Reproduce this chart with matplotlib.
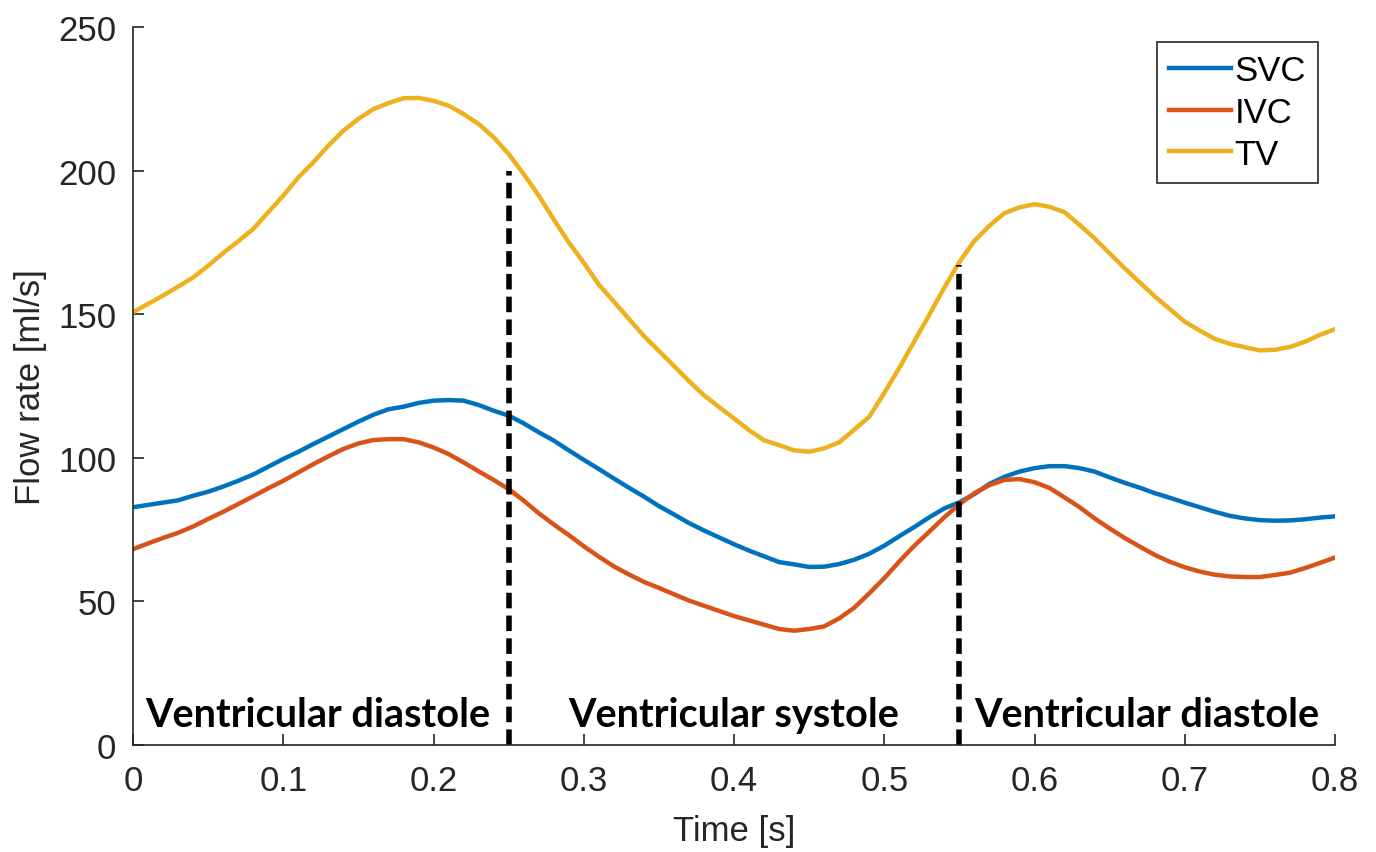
import matplotlib
matplotlib.use("Agg")
import matplotlib.pyplot as plt

# time axis [s] and flow rates [ml/s] (every 0.01 s)
time = [0.00, 0.01, 0.02, 0.03, 0.04, 0.05, 0.06, 0.07, 0.08, 0.09,
        0.10, 0.11, 0.12, 0.13, 0.14, 0.15, 0.16, 0.17, 0.18, 0.19,
        0.20, 0.21, 0.22, 0.23, 0.24, 0.25, 0.26, 0.27, 0.28, 0.29,
        0.30, 0.31, 0.32, 0.33, 0.34, 0.35, 0.36, 0.37, 0.38, 0.39,
        0.40, 0.41, 0.42, 0.43, 0.44, 0.45, 0.46, 0.47, 0.48, 0.49,
        0.50, 0.51, 0.52, 0.53, 0.54, 0.55, 0.56, 0.57, 0.58, 0.59,
        0.60, 0.61, 0.62, 0.63, 0.64, 0.65, 0.66, 0.67, 0.68, 0.69,
        0.70, 0.71, 0.72, 0.73, 0.74, 0.75, 0.76, 0.77, 0.78, 0.79, 0.80]

svc = [82.8, 83.6, 84.4, 85.2, 86.8, 88.2, 90.0, 92.0, 94.2, 96.9,
       99.6, 102.1, 104.8, 107.4, 110.0, 112.6, 115.0, 116.9, 117.8, 119.1,
       119.9, 120.1, 119.9, 118.4, 116.4, 114.7, 112.0, 108.9, 106.0, 102.6,
       99.3, 96.1, 92.8, 89.6, 86.5, 83.2, 80.3, 77.3, 74.7, 72.3,
       69.9, 67.7, 65.7, 63.7, 62.9, 62.0, 62.1, 63.0, 64.5, 66.6,
       69.4, 72.7, 75.9, 79.3, 82.4, 84.5, 87.4, 90.9, 93.4, 95.2,
       96.4, 97.1, 97.1, 96.4, 95.2, 93.2, 91.3, 89.6, 87.7, 86.1,
       84.4, 82.8, 81.2, 79.8, 78.9, 78.3, 78.1, 78.2, 78.6, 79.2, 79.6]

ivc = [68.2, 70.2, 72.1, 73.9, 76.1, 78.7, 81.2, 83.9, 86.6, 89.4,
       92.0, 94.9, 97.8, 100.5, 103.1, 105.0, 106.2, 106.5, 106.5, 105.4,
       103.6, 101.3, 98.4, 95.3, 92.3, 89.1, 85.1, 80.7, 76.8, 73.1,
       69.2, 65.6, 62.2, 59.4, 56.8, 54.7, 52.5, 50.3, 48.5, 46.7,
       44.9, 43.4, 41.9, 40.4, 39.8, 40.4, 41.3, 44.1, 47.8, 52.8,
       58.1, 63.9, 69.4, 74.3, 79.3, 83.8, 87.7, 90.5, 92.3, 92.6,
       91.5, 89.5, 86.2, 82.8, 78.9, 75.4, 72.1, 69.1, 66.2, 63.8,
       61.9, 60.4, 59.3, 58.7, 58.5, 58.5, 59.2, 60.0, 61.6, 63.4, 65.3]

tv = [150.7, 153.6, 156.5, 159.6, 162.8, 166.9, 171.3, 175.4, 179.7, 185.5,
      191.3, 197.6, 202.9, 208.7, 213.9, 218.0, 221.4, 223.5, 225.2, 225.3,
      224.3, 222.6, 219.7, 216.2, 211.6, 205.8, 198.8, 191.3, 183.0, 175.0,
      167.9, 160.3, 154.4, 148.4, 142.4, 137.2, 132.0, 126.7, 121.8, 117.7,
      113.7, 109.6, 106.1, 104.4, 102.6, 102.1, 103.3, 105.4, 109.8, 114.3,
      122.6, 131.3, 140.6, 149.8, 159.3, 168.2, 175.5, 180.8, 185.2, 187.2,
      188.3, 187.4, 185.5, 181.1, 176.4, 171.2, 166.0, 161.1, 156.2, 151.8,
      147.4, 144.3, 141.4, 139.7, 138.5, 137.4, 137.6, 138.6, 140.4, 142.8, 144.8]

# phase boundaries: (time, top of dashed line)
bound_t = [0.25, 0.55]
bound_top = [200, 167]

phase_labels = ["Ventricular diastole", "Ventricular systole", "Ventricular diastole"]
phase_x = [0.008, 0.40, 0.675]
phase_ha = ["left", "center", "center"]

plt.rcParams["font.family"] = ["Liberation Sans", "DejaVu Sans"]
grey = "#262626"

fig = plt.figure(figsize=(13.76, 8.53), dpi=100)
ax = fig.add_axes([0.0967, 0.1254, 0.8735, 0.8418])

ax.plot(time, svc, color="#0072BD", lw=3.2, label="SVC")
ax.plot(time, ivc, color="#D95319", lw=3.2, label="IVC")
ax.plot(time, tv, color="#EDB120", lw=3.2, label="TV")

for t, top in zip(bound_t, bound_top):
    ax.plot([t, t], [0, top], color="black", lw=4, dashes=(2.8, 1.3))

for lbl, x, ha in zip(phase_labels, phase_x, phase_ha):
    ax.text(x, 6.7, lbl, ha=ha, va="baseline", fontsize=28.5,
            fontweight="bold", family=["Lato", "DejaVu Sans"])

ax.set_xlim(0, 0.8)
ax.set_ylim(0, 250)
ax.set_xticks([0, 0.1, 0.2, 0.3, 0.4, 0.5, 0.6, 0.7, 0.8])
ax.set_xticklabels(["0", "0.1", "0.2", "0.3", "0.4", "0.5", "0.6", "0.7", "0.8"])
ax.set_yticks([0, 50, 100, 150, 200, 250])

for s in ["top", "right"]:
    ax.spines[s].set_visible(False)
for s in ["left", "bottom"]:
    ax.spines[s].set_color(grey)
    ax.spines[s].set_linewidth(1.2)

ax.tick_params(direction="in", length=8, width=1.2, colors=grey,
               labelsize=25, labelcolor=grey)
ax.tick_params(axis="x", pad=14)
ax.tick_params(axis="y", pad=12)

ax.set_xlabel("Time [s]", fontsize=25, color=grey, labelpad=12)
ax.set_ylabel("Flow rate [ml/s]", fontsize=25, color=grey, labelpad=8)

leg = ax.legend(loc="upper right", bbox_to_anchor=(0.986, 0.979),
                borderaxespad=0, fontsize=25, handlelength=1.8,
                handletextpad=0.1, labelspacing=0.25, borderpad=0.35,
                fancybox=False, framealpha=1)
leg.get_frame().set_edgecolor(grey)
leg.get_frame().set_linewidth(1.2)

fig.savefig("out.png", dpi=100)
